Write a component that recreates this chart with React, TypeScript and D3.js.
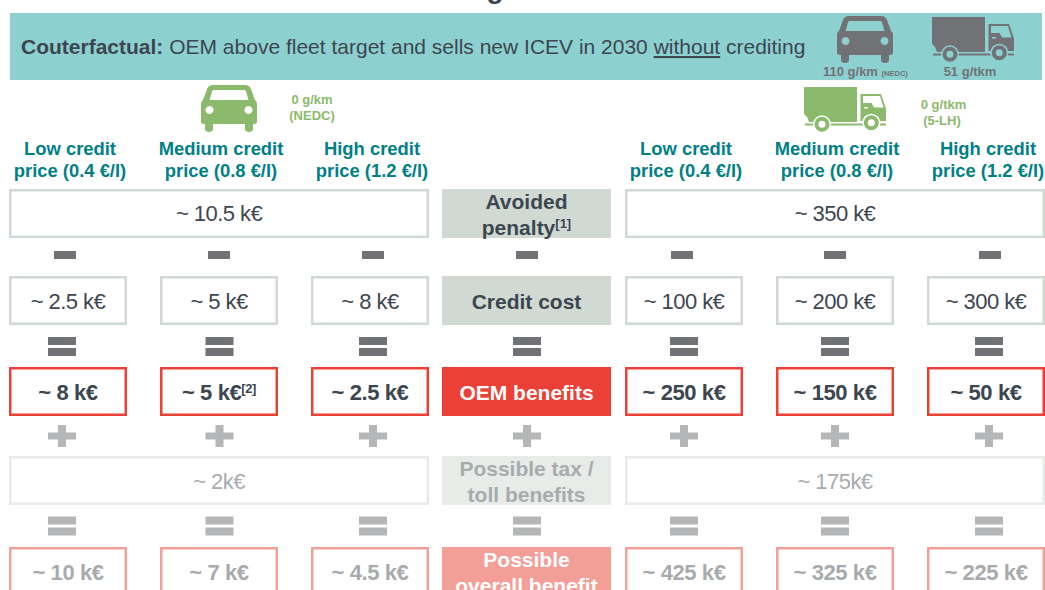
import React from "react";
import * as d3 from "d3";

const priceLabels = ["Low credit", "Medium credit", "High credit"];
const priceValues = ["price (0.4 €/l)", "price (0.8 €/l)", "price (1.2 €/l)"];

const carPenalty = "~ 10.5 k€";
const truckPenalty = "~ 350 k€";
const carCost = ["~ 2.5 k€", "~ 5 k€", "~ 8 k€"];
const truckCost = ["~ 100 k€", "~ 200 k€", "~ 300 k€"];
const carBenefit = ["~ 8 k€", "~ 5 k€", "~ 2.5 k€"];
const truckBenefit = ["~ 250 k€", "~ 150 k€", "~ 50 k€"];
const carTax = "~ 2k€";
const truckTax = "~ 175k€";
const carOverall = ["~ 10 k€", "~ 7 k€", "~ 4.5 k€"];
const truckOverall = ["~ 425 k€", "~ 325 k€", "~ 225 k€"];

const columns = [0, 1, 2];
const FONT = "'Liberation Sans', Arial, sans-serif";

// colours
const TEAL_BG = "#8dd0d0";
const TEAL_TEXT = "#007f86";
const DARK = "#3c4650";
const GREY = "#707276";
const LIGHT_GREY = "#b5b6b8";
const FADED_TEXT = "#a7abae";
const SAGE = "#d0dad2";
const FADED_SAGE = "#e7ece8";
const RED = "#ea4036";
const PINK = "#f49e98";
const GREEN = "#8cba6c";

const width = 1045;
const height = 590;

const xLeft = d3.scaleBand<number>().domain(columns).range([9, 429]).paddingInner(0.2185);
const xRight = d3.scaleBand<number>().domain(columns).range([625, 1045]).paddingInner(0.2185);
const midX = 442;
const midW = 169;
const midCentre = 526.5;
const rowH = 49;

const rowY = { penalty: 189, cost: 276, benefit: 367, tax: 456, overall: 547 };
const opY = { minus: 255, eq1: 346, plus: 436, eq2: 525.5 };

// the operators do not sit exactly on the box centres in the original slide
const leftOpX = [62, 219.5, 373];
const rightOpX = [684, 835, 989];
const leftMinusX = [65, 219, 373];
const rightMinusX = [682, 835, 990];

const carPath =
  "M12 0H44C47 0 49 1.500 50 4L54 15C55.500 16 56 17 56 19V37C56 38 55 39 52 39V44C52 46 50.500 47 48 47C45.500 47 44 46 44 44V39H12V44C12 46 10.500 47 8 47C5.500 47 4 46 4 44V39C1 39 0 38 0 37V19C0 17 .5 16 2 15L6 4C7 1.500 9 0 12 0Z" +
  "M13 5C12 5 11.500 5.500 11 6.500L8.500 15H47.500L45 6.500C44.500 5.500 44 5 43 5Z" +
  "M8.500 21a4 4 0 1 0 .01 0Z M47.500 21a4 4 0 1 0 .01 0Z";

function Car({ x, y, fill }: { x: number; y: number; fill: string }) {
  return <path transform={`translate(${x},${y})`} d={carPath} fill={fill} fillRule="evenodd" />;
}

function Truck({ x, y, fill, bg }: { x: number; y: number; fill: string; bg: string }) {
  return (
    <g transform={`translate(${x},${y})`}>
      {/* cargo box with the notch at lower left */}
      <path d="M0 0H53V35H5L3 30L0 27Z" fill={fill} />
      {/* cab */}
      <path d="M56.500 7H77L82 21.500V34H56.500Z" fill={fill} />
      <path d="M59 9H76L79.500 20.500H70L67.500 16H59Z" fill={bg} />
      <path d="M60 20H64V21.500H60Z" fill={bg} />
      {/* chassis strip */}
      <path d="M1 36.500H82V38.500H1Z" fill={fill} />
      {[18, 67.300].map((cx, i) => {
        const cy = i === 0 ? 37.300 : 35.700;
        return (
          <g key={cx}>
            <circle cx={cx} cy={cy} r={9} fill={bg} />
            <circle cx={cx} cy={cy} r={7.500} fill={fill} />
            <circle cx={cx} cy={cy} r={3.500} fill={bg} />
          </g>
        );
      })}
    </g>
  );
}

function Box({ x, y, w, stroke, label, color, bold, sup, dy = 8 }: {
  x: number; y: number; w: number; stroke: string; label: string; color: string; bold?: boolean; sup?: string; dy?: number;
}) {
  return (
    <g>
      <rect x={x + 1.25} y={y + 1.25} width={w - 2.5} height={rowH - 2.5} fill="#fff" stroke={stroke} strokeWidth={2.5} />
      <text x={x + w / 2} y={y + rowH / 2 + dy} textAnchor="middle" fontSize={22} fontWeight={bold ? 700 : 400} fill={color} letterSpacing={bold ? -0.4 : -0.55}>
        {label}
        {sup && <tspan fontSize={13} dy={-7}>{sup}</tspan>}
      </text>
    </g>
  );
}

function Op({ kind, cx, y, fill }: { kind: "minus" | "eq" | "plus"; cx: number; y: number; fill: string }) {
  if (kind === "minus") return <rect x={cx - 11} y={y - 4} width={22} height={8} fill={fill} />;
  if (kind === "eq") {
    return (
      <g fill={fill}>
        <rect x={cx - 14} y={y - 9} width={28} height={8} />
        <rect x={cx - 14} y={y + 2} width={28} height={8} />
      </g>
    );
  }
  return (
    <g fill={fill}>
      <rect x={cx - 14} y={y - 3.500} width={28} height={7} />
      <rect x={cx - 4} y={y - 11} width={8} height={22} />
    </g>
  );
}

function MidCell({ y, fill, lines, color, sup }: { y: number; fill: string; lines: string[]; color: string; sup?: string }) {
  const two = lines.length > 1;
  return (
    <g>
      <rect x={midX} y={y} width={midW} height={rowH} fill={fill} />
      {lines.map((l, i) => (
        <text key={l} x={midCentre} y={y + (two ? 20 + i * 26 : 32.5)} textAnchor="middle" fontSize={21} fontWeight={700} fill={color}>
          {l}
          {sup && i === lines.length - 1 && <tspan fontSize={13} dy={-7}>{sup}</tspan>}
        </text>
      ))}
    </g>
  );
}

function Side({ scale, penalty, cost, benefit, tax, overall, opX, minusX, supIndex }: {
  scale: d3.ScaleBand<number>; penalty: string; cost: string[]; benefit: string[]; tax: string; overall: string[];
  opX: number[]; minusX: number[]; supIndex?: number;
}) {
  const bw = scale.bandwidth();
  const x0 = scale(0) as number;
  const full = (scale(2) as number) + bw - x0;
  return (
    <g>
      {columns.map((c) => (
        <g key={c} fontSize={18.4} fontWeight={700} fill={TEAL_TEXT} textAnchor="middle">
          <text x={(scale(c) as number) + bw / 2 + 2} y={155}>{priceLabels[c]}</text>
          <text x={(scale(c) as number) + bw / 2 + 2} y={177}>{priceValues[c]}</text>
        </g>
      ))}
      <Box x={x0} y={rowY.penalty} w={full} stroke={SAGE} label={penalty} color={DARK} dy={7} />
      <Box x={x0} y={rowY.tax} w={full} stroke={FADED_SAGE} label={tax} color={FADED_TEXT} />
      {columns.map((c) => {
        const x = scale(c) as number;
        return (
          <g key={c}>
            <Op kind="minus" cx={minusX[c]} y={opY.minus} fill={GREY} />
            <Box x={x} y={rowY.cost} w={bw} stroke={SAGE} label={cost[c]} color={DARK} />
            <Op kind="eq" cx={opX[c]} y={opY.eq1} fill={GREY} />
            <Box x={x} y={rowY.benefit} w={bw} stroke={RED} label={benefit[c]} color={DARK} bold sup={supIndex === c ? "[2]" : undefined} />
            <Op kind="plus" cx={opX[c]} y={opY.plus} fill={LIGHT_GREY} />
            <Op kind="eq" cx={opX[c]} y={opY.eq2} fill={LIGHT_GREY} />
            <Box x={x} y={rowY.overall} w={bw} stroke={PINK} label={overall[c]} color={FADED_TEXT} bold />
          </g>
        );
      })}
    </g>
  );
}

export default function App() {
  return (
    <svg width={width} height={height} style={{ position: "absolute", left: 0, top: 0 }} fontFamily={FONT}>
      <rect x={0} y={0} width={width} height={height} fill="#fff" />
      {/* only the descender of the slide title is left in the crop */}
      <text x={495} y={-2} textAnchor="middle" fontSize={28} fontWeight={700} fill={DARK}>g</text>
      <rect x={10} y={13} width={1032} height={67} fill={TEAL_BG} />

      <text x={21} y={54} fontSize={21} fill={DARK}>
        <tspan fontWeight={700}>Couterfactual:</tspan> OEM above fleet target and sells new ICEV in 2030{" "}
        <tspan textDecoration="underline">without</tspan> crediting
      </text>

      <Car x={837} y={16} fill={GREY} />
      <Truck x={932} y={17} fill={GREY} bg={TEAL_BG} />
      <text x={823} y={76} fontSize={13} fontWeight={700} fill={GREY}>110 g/km <tspan fontSize={7.500}>(NEDC)</tspan></text>
      <text x={970} y={76} fontSize={13} fontWeight={700} fill={GREY} textAnchor="middle">51 g/tkm</text>

      <Car x={201} y={85} fill={GREEN} />
      <Truck x={804} y={87} fill={GREEN} bg="#fff" />
      <g fontSize={13} fontWeight={700} fill={GREEN} textAnchor="middle">
        <text x={312} y={104}>0 g/km</text>
        <text x={312} y={120}>(NEDC)</text>
        <text x={943.5} y={109}>0 g/tkm</text>
        <text x={942} y={125}>(5-LH)</text>
      </g>

      <Side scale={xLeft} penalty={carPenalty} cost={carCost} benefit={carBenefit} tax={carTax} overall={carOverall} opX={leftOpX} minusX={leftMinusX} supIndex={1} />
      <Side scale={xRight} penalty={truckPenalty} cost={truckCost} benefit={truckBenefit} tax={truckTax} overall={truckOverall} opX={rightOpX} minusX={rightMinusX} />

      <MidCell y={rowY.penalty} fill={SAGE} lines={["Avoided", "penalty"]} color={DARK} sup="[1]" />
      <Op kind="minus" cx={527} y={opY.minus} fill={GREY} />
      <MidCell y={rowY.cost} fill={SAGE} lines={["Credit cost"]} color={DARK} />
      <Op kind="eq" cx={527} y={opY.eq1} fill={GREY} />
      <MidCell y={rowY.benefit} fill={RED} lines={["OEM benefits"]} color="#fff" />
      <Op kind="plus" cx={527} y={opY.plus} fill={LIGHT_GREY} />
      <MidCell y={rowY.tax} fill={FADED_SAGE} lines={["Possible tax /", "toll benefits"]} color={FADED_TEXT} />
      <Op kind="eq" cx={527} y={opY.eq2} fill={LIGHT_GREY} />
      <MidCell y={rowY.overall} fill={PINK} lines={["Possible", "overall benefit"]} color="#fff" />
    </svg>
  );
}
